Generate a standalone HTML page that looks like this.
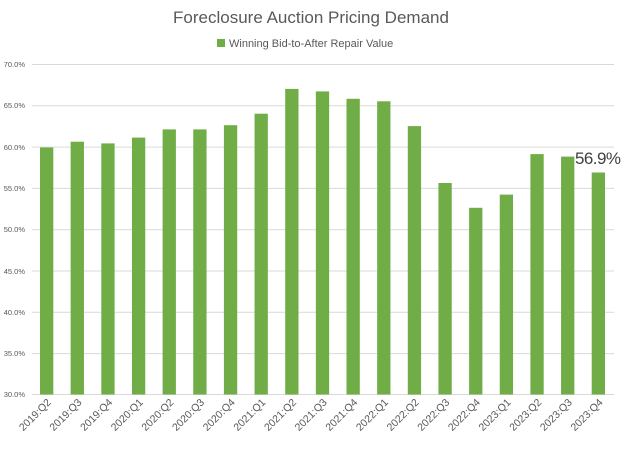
<!DOCTYPE html>
<html><head><style>body{margin:0;background:#fff}svg{display:block;font-family:"Liberation Sans",Calibri,sans-serif}</style></head>
<body>
<svg width="623" height="450" viewBox="0 0 623 450">
<text x="311" y="23" text-anchor="middle" font-size="17" fill="#595959">Foreclosure Auction Pricing Demand</text>
<rect x="217" y="39" width="8" height="8" fill="#70ad47"/>
<text x="229" y="47" font-size="11" fill="#595959">Winning Bid-to-After Repair Value</text>
<g stroke="#d9d9d9" stroke-width="1">
<line x1="32" x2="614" y1="64.5" y2="64.5"/><line x1="32" x2="614" y1="105.8" y2="105.8"/>
<line x1="32" x2="614" y1="147.1" y2="147.1"/><line x1="32" x2="614" y1="188.4" y2="188.4"/>
<line x1="32" x2="614" y1="229.7" y2="229.7"/><line x1="32" x2="614" y1="271" y2="271"/>
<line x1="32" x2="614" y1="312.3" y2="312.3"/><line x1="32" x2="614" y1="353.6" y2="353.6"/>
<line x1="32" x2="614" y1="394.5" y2="394.5"/>
</g>
<g font-size="7.5" fill="#595959" text-anchor="end">
<text x="25" y="67">70.0%</text><text x="25" y="108">65.0%</text><text x="25" y="150">60.0%</text>
<text x="25" y="191">55.0%</text><text x="25" y="232">50.0%</text><text x="25" y="274">45.0%</text>
<text x="25" y="315">40.0%</text><text x="25" y="356">35.0%</text><text x="25" y="397">30.0%</text>
</g>
<g fill="#70ad47">
<rect x="40" y="147.5" width="13.3" height="247"/>
<rect x="70.65" y="141.7" width="13.3" height="252.8"/>
<rect x="101.3" y="143.4" width="13.3" height="251.1"/>
<rect x="131.95" y="137.6" width="13.3" height="256.9"/>
<rect x="162.6" y="129.4" width="13.3" height="265.1"/>
<rect x="193.25" y="129.4" width="13.3" height="265.1"/>
<rect x="223.9" y="125.2" width="13.3" height="269.3"/>
<rect x="254.55" y="113.7" width="13.3" height="280.8"/>
<rect x="285.2" y="88.9" width="13.3" height="305.6"/>
<rect x="315.85" y="91.4" width="13.3" height="303.1"/>
<rect x="346.5" y="98.8" width="13.3" height="295.7"/>
<rect x="377.15" y="101.3" width="13.3" height="293.2"/>
<rect x="407.8" y="126.1" width="13.3" height="268.4"/>
<rect x="438.45" y="183.0" width="13.3" height="211.5"/>
<rect x="469.1" y="207.8" width="13.3" height="186.7"/>
<rect x="499.75" y="194.6" width="13.3" height="199.9"/>
<rect x="530.4" y="154.1" width="13.3" height="240.4"/>
<rect x="561.05" y="156.6" width="13.3" height="237.9"/>
<rect x="591.7" y="172.5" width="13.3" height="222"/>
</g>
<g font-size="10.5" fill="#595959" text-anchor="end">
<text transform="translate(51.7,403) rotate(-45)">2019:Q2</text>
<text transform="translate(82.3,403) rotate(-45)">2019:Q3</text>
<text transform="translate(113,403) rotate(-45)">2019:Q4</text>
<text transform="translate(143.6,403) rotate(-45)">2020:Q1</text>
<text transform="translate(174.3,403) rotate(-45)">2020:Q2</text>
<text transform="translate(204.9,403) rotate(-45)">2020:Q3</text>
<text transform="translate(235.6,403) rotate(-45)">2020:Q4</text>
<text transform="translate(266.2,403) rotate(-45)">2021:Q1</text>
<text transform="translate(296.9,403) rotate(-45)">2021:Q2</text>
<text transform="translate(327.5,403) rotate(-45)">2021:Q3</text>
<text transform="translate(358.2,403) rotate(-45)">2021:Q4</text>
<text transform="translate(388.8,403) rotate(-45)">2022:Q1</text>
<text transform="translate(419.5,403) rotate(-45)">2022:Q2</text>
<text transform="translate(450.1,403) rotate(-45)">2022:Q3</text>
<text transform="translate(480.8,403) rotate(-45)">2022:Q4</text>
<text transform="translate(511.4,403) rotate(-45)">2023:Q1</text>
<text transform="translate(542.1,403) rotate(-45)">2023:Q2</text>
<text transform="translate(572.7,403) rotate(-45)">2023:Q3</text>
<text transform="translate(603.4,403) rotate(-45)">2023:Q4</text>
</g>
<text x="575" y="164" font-size="17" fill="#404040" textLength="46">56.9%</text>
</svg>
</body></html>
